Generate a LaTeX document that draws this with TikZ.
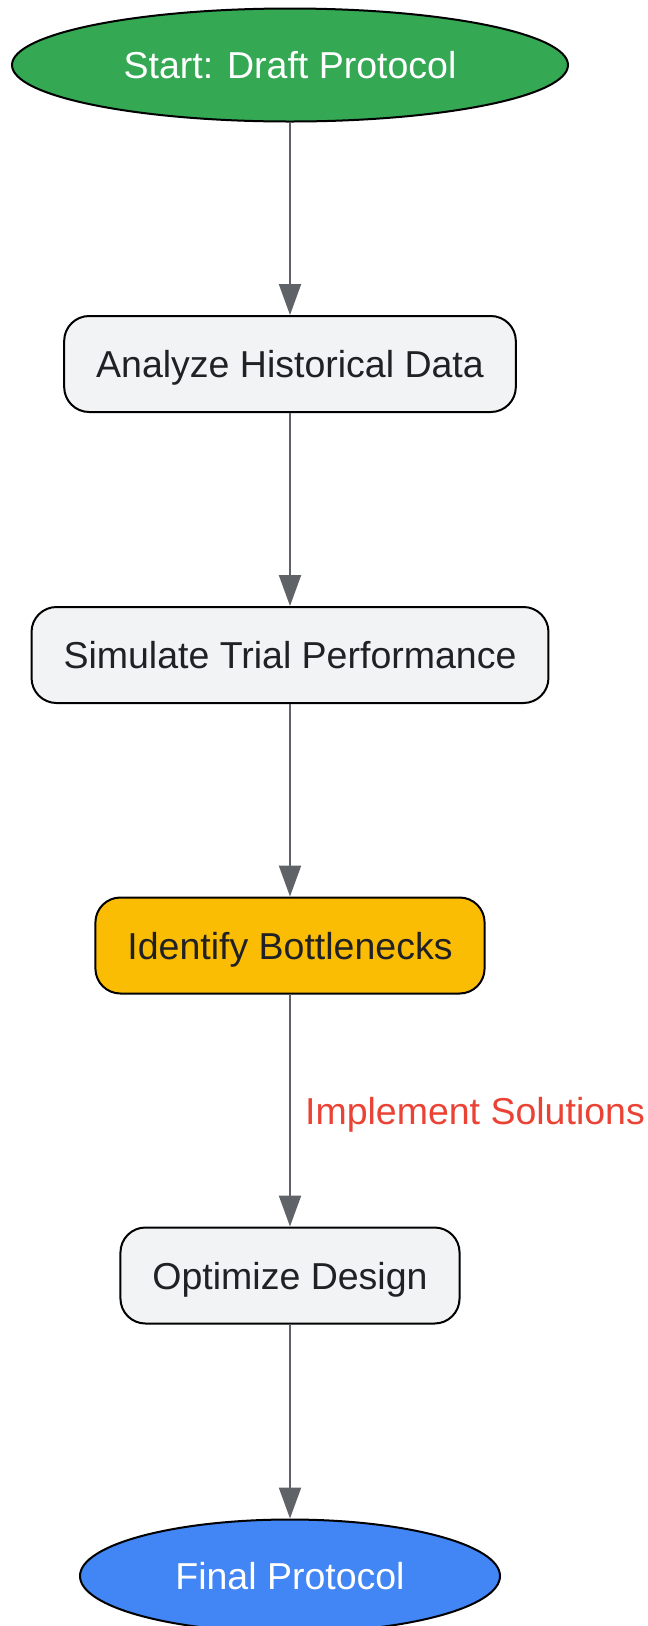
\documentclass[tikz,border=0pt]{standalone}
\usepackage{fontspec}
\setmainfont{Liberation Sans}
\usetikzlibrary{shapes.geometric,arrows.meta}
\definecolor{startgreen}{HTML}{34A853}
\definecolor{endblue}{HTML}{4285F4}
\definecolor{warnyellow}{HTML}{FBBC04}
\definecolor{stepgray}{HTML}{F1F3F4}
\definecolor{inkgray}{HTML}{202124}
\definecolor{flowgray}{HTML}{5F6368}
\definecolor{labelred}{HTML}{EA4335}
\begin{document}
\begin{tikzpicture}[x=1pt,y=1pt,
                font=\fontsize{37.5}{44}\selectfont,
                terminal/.style={ellipse,draw=black,line width=2pt,text=white,text depth=0pt,inner sep=0pt,minimum height=113pt},
                stepbox/.style={rectangle,rounded corners=25pt,draw=black,line width=2pt,fill=stepgray,text=inkgray,text depth=0pt,inner xsep=32pt,minimum height=96pt},
                flow/.style={draw=flowgray,line width=2.2pt,-{Triangle[length=31pt,width=22pt]}},
                flowlabel/.style={text=labelred,text depth=0pt,inner sep=0pt,anchor=west,xshift=14pt}]
                \useasboundingbox (0,0) rectangle (648,-1626);
                \node[terminal,fill=startgreen,minimum width=556pt] (start) at (290,-65) {Start: Draft Protocol};
                \node[stepbox] (analyze) at (290,-364) {Analyze Historical Data};
                \node[stepbox] (simulate) at (290,-655) {Simulate Trial Performance};
                \node[stepbox,fill=warnyellow] (bottlenecks) at (290,-945.5) {Identify Bottlenecks};
                \node[stepbox] (optimize) at (290,-1275.5) {Optimize Design};
                \node[terminal,fill=endblue,minimum width=420pt] (final) at (290,-1576) {Final Protocol};
                \draw[flow] (start) -- (analyze);
                \draw[flow] (analyze) -- (simulate);
                \draw[flow] (simulate) -- (bottlenecks);
                \draw[flow] (bottlenecks) -- node[flowlabel] (solutions) {Implement Solutions} (optimize);
                \draw[flow] (optimize) -- (final);
            \end{tikzpicture}
\end{document}
